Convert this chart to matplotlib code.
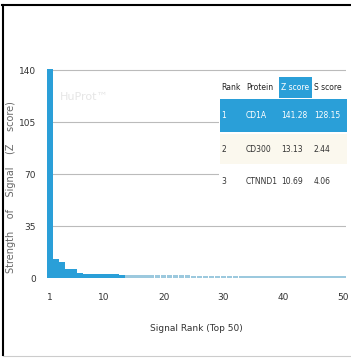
import matplotlib
matplotlib.use("Agg")
import matplotlib.pyplot as plt
from matplotlib.patches import Rectangle
from matplotlib.lines import Line2D

# Signal ranks and Z scores (top 50)
ranks = list(range(1, 51))
z_scores = [141.28, 13.13, 10.69, 6.6, 6.3, 3.9, 3.1, 3.0, 2.9, 2.8,
            2.7, 2.6, 2.5, 2.3, 2.2, 2.1, 2.1, 2.0, 2.0, 2.0,
            1.9, 1.9, 1.9, 1.9, 1.8, 1.8, 1.8, 1.8, 1.8, 1.7,
            1.7, 1.7, 1.7, 1.7, 1.7, 1.6, 1.6, 1.6, 1.6, 1.6,
            1.6, 1.6, 1.5, 1.5, 1.5, 1.5, 1.5, 1.5, 1.5, 1.5]

x_ticks = [1, 10, 20, 30, 40, 50]
y_ticks = [0, 35, 70, 105, 140]

# Top-3 table
table_header = ["Rank", "Protein", "Z score", "S score"]
table_rank = ["1", "2", "3"]
table_protein = ["CD1A", "CD300", "CTNND1"]
table_z = ["141.28", "13.13", "10.69"]
table_s = ["128.15", "2.44", "4.06"]

BLUE = "#2a9fd8"
W, H = 351, 358


def fx(p):
    return p / W


def fy(p):
    return 1 - p / H


fig = plt.figure(figsize=(W / 100, H / 100), dpi=100)
ax = fig.add_axes([fx(47), fy(283.5), fx(346) - fx(47), fy(63) - fy(283.5)])

colors = [BLUE if r <= 13 else "#9cc9de" for r in ranks]
ax.bar(ranks, z_scores, width=0.95, color=colors, linewidth=0, zorder=2)

ax.set_xlim(0.5, 50.5)
ax.set_ylim(-3.5, 145)
ax.set_xticks(x_ticks)
ax.set_yticks(y_ticks)
ax.tick_params(axis="x", length=0, labelsize=6.5, colors="#333333", pad=7)
ax.tick_params(axis="y", length=0, labelsize=6.5, colors="#333333", pad=8)
for s in ax.spines.values():
    s.set_visible(False)
for yv in y_ticks[1:]:
    ax.axhline(yv, color="#bbbbbb", lw=0.8, zorder=1)

# y label placed by hand so it sits close to the frame
fig.text(fx(11), fy(187), "Strength    of    Signal    (Z    score)", fontsize=7,
         color="#666666", rotation=90, ha="center", va="center")
ax.set_xlabel("Signal Rank (Top 50)", fontsize=6.5, color="#333333", labelpad=16)

# watermark
fig.text(fx(60), fy(97), "HuProt\u2122", fontsize=8, color="#e6e6e6", va="center")

# table background and highlights
fig.patches.append(Rectangle((fx(219), fy(196)), fx(347) - fx(219), fy(75) - fy(196),
                             transform=fig.transFigure, facecolor="white", edgecolor="none", zorder=3))
fig.patches.append(Rectangle((fx(279), fy(98)), fx(312) - fx(279), fy(77) - fy(98),
                             transform=fig.transFigure, facecolor=BLUE, edgecolor="none", zorder=4))
fig.patches.append(Rectangle((fx(220), fy(132)), fx(347) - fx(220), fy(99) - fy(132),
                             transform=fig.transFigure, facecolor=BLUE, edgecolor="none", zorder=4))
fig.patches.append(Rectangle((fx(220), fy(164)), fx(347) - fx(220), fy(134) - fy(164),
                             transform=fig.transFigure, facecolor="#fbf8ee", edgecolor="none", zorder=4))

col_x = [221, 246, 281, 314]
row_y = [88, 116, 150, 182]
rows = [table_header] + [list(r) for r in zip(table_rank, table_protein, table_z, table_s)]
for i, row in enumerate(rows):
    for j, txt in enumerate(row):
        if i == 0:
            c = "white" if j == 2 else "#222222"
        elif i == 1:
            c = "white"
        else:
            c = "#333333"
        fig.text(fx(col_x[j]), fy(row_y[i]), txt, fontsize=5.5, color=c,
                 va="center", ha="left", zorder=5)

# frame lines around the image
fig.add_artist(Line2D([fx(2), 1], [fy(5), fy(5)], color="black", lw=1.5))
fig.add_artist(Line2D([fx(3), fx(3)], [fy(5), fy(355)], color="black", lw=1.5))
fig.add_artist(Line2D([fx(3), 1], [fy(356), fy(356)], color="#cccccc", lw=0.8))

fig.savefig("out.png", dpi=100)
